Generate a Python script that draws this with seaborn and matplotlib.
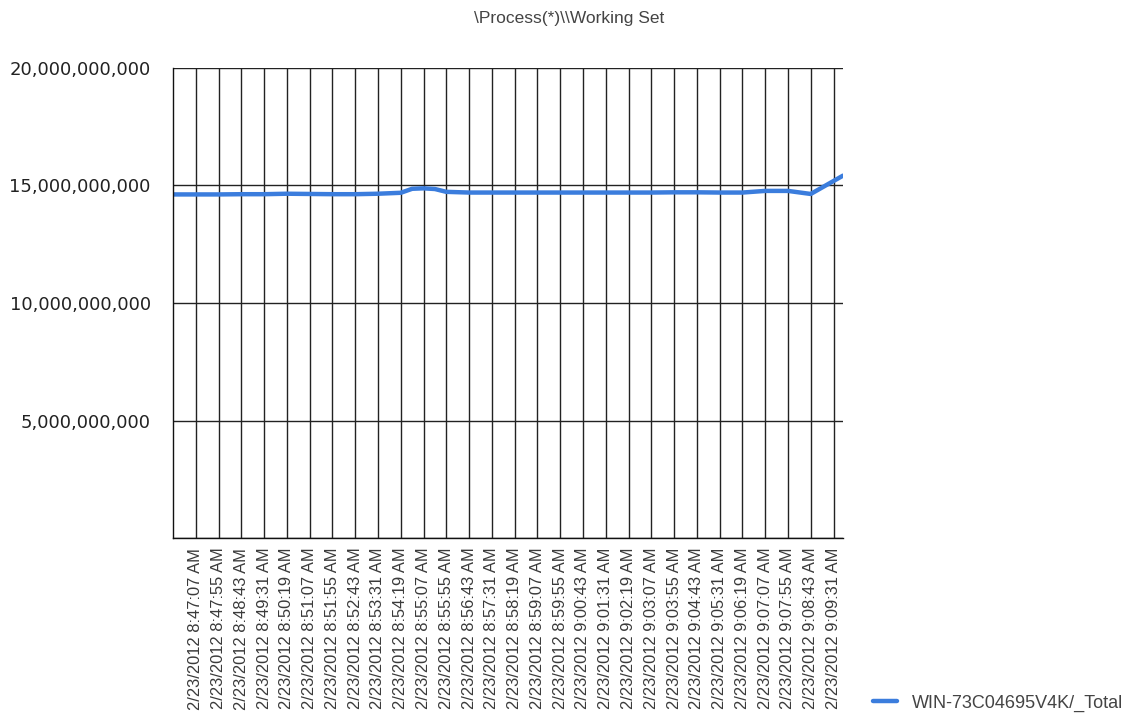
import matplotlib
matplotlib.use("Agg")
import matplotlib.pyplot as plt
import seaborn as sns
import pandas as pd
import numpy as np
from matplotlib.lines import Line2D

# ---- data ----
sample_times = ["8:46:19", "8:47:07", "8:47:55", "8:48:43", "8:49:31", "8:50:19",
                "8:51:07", "8:51:55", "8:52:43", "8:53:31", "8:54:19", "8:54:43",
                "8:55:07", "8:55:31", "8:55:55", "8:56:43", "8:57:31", "8:58:19",
                "8:59:07", "8:59:55", "9:00:43", "9:01:31", "9:02:19", "9:03:07",
                "9:03:55", "9:04:43", "9:05:31", "9:06:19", "9:07:07", "9:07:55",
                "9:08:43", "9:09:51"]
working_set = [14.62e9, 14.62e9, 14.62e9, 14.63e9, 14.63e9, 14.65e9,
               14.64e9, 14.63e9, 14.63e9, 14.65e9, 14.69e9, 14.86e9,
               14.88e9, 14.85e9, 14.73e9, 14.70e9, 14.70e9, 14.70e9,
               14.70e9, 14.70e9, 14.70e9, 14.70e9, 14.70e9, 14.70e9,
               14.71e9, 14.71e9, 14.70e9, 14.70e9, 14.77e9, 14.77e9,
               14.64e9, 15.42e9]
series_name = "WIN-73C04695V4K/_Total"

tick_times = ["8:47:07", "8:47:55", "8:48:43", "8:49:31", "8:50:19", "8:51:07",
              "8:51:55", "8:52:43", "8:53:31", "8:54:19", "8:55:07", "8:55:55",
              "8:56:43", "8:57:31", "8:58:19", "8:59:07", "8:59:55", "9:00:43",
              "9:01:31", "9:02:19", "9:03:07", "9:03:55", "9:04:43", "9:05:31",
              "9:06:19", "9:07:07", "9:07:55", "9:08:43", "9:09:31"]
tick_labels = ["2/23/2012 " + t + " AM" for t in tick_times]

y_ticks = [0, 5e9, 10e9, 15e9, 20e9]
y_tick_labels = ["", "5,000,000,000", "10,000,000,000", "15,000,000,000", "20,000,000,000"]

title = "\\Process(*)\\\\Working Set"

# ---- build ----
def to_dt(s):
    return pd.to_datetime("2012-02-23 " + s)

df = pd.DataFrame({
    "time": [to_dt(t) for t in sample_times],
    "value": working_set,
    "series": series_name,
})

sns.set_theme(style="white")
plt.rcParams["font.family"] = ["Liberation Sans", "DejaVu Sans"]

W, H = 1138, 718
fig = plt.figure(figsize=(W / 100, H / 100), dpi=100)
L, R, T, B = 173, 843, 68, 538
ax = fig.add_axes([L / W, 1 - B / H, (R - L) / W, (B - T) / H])

line_color = "#3b7ddd"
sns.lineplot(data=df, x="time", y="value", hue="series", palette=[line_color],
             linewidth=3.2, ax=ax, legend=False)

ax.set_xlim(to_dt(sample_times[0]), to_dt(sample_times[-1]))
ax.set_ylim(0, 20e9)

ax.set_xticks([to_dt(t) for t in tick_times])
ax.set_xticklabels(tick_labels, rotation=90, fontsize=11.9, color="#3a3a3a",
                   family=["Liberation Sans", "DejaVu Sans"])
ax.set_yticks(y_ticks)
ax.set_yticklabels(y_tick_labels, fontsize=13, color="#222222",
                   family=["DejaVu Sans"])

ax.tick_params(axis="y", direction="out", length=13, width=1.0, color="#111111", pad=3)
ax.tick_params(axis="x", direction="out", length=6, width=1.0, color="#111111", pad=1)

ax.grid(True, which="major", color="#222222", linewidth=1.0)
for side in ["top", "right"]:
    ax.spines[side].set_visible(False)
for side in ["left", "bottom"]:
    ax.spines[side].set_color("#111111")
    ax.spines[side].set_linewidth(1.0)
ax.set_xlabel("")
ax.set_ylabel("")
ax.set_facecolor("white")
fig.patch.set_facecolor("white")

fig.text(569 / W, 1 - 18 / H, title, ha="center", va="center", fontsize=12.5,
         color="#444444")

handle = Line2D([0], [0], color=line_color, linewidth=3.2)
fig.legend([handle], [series_name], loc="center left",
           bbox_to_anchor=(873 / W, 1 - 703 / H), frameon=False,
           fontsize=13, borderpad=0, borderaxespad=0, handlelength=1.35,
           handletextpad=0.8, labelcolor="#444444")

fig.savefig("out.png", dpi=100)
